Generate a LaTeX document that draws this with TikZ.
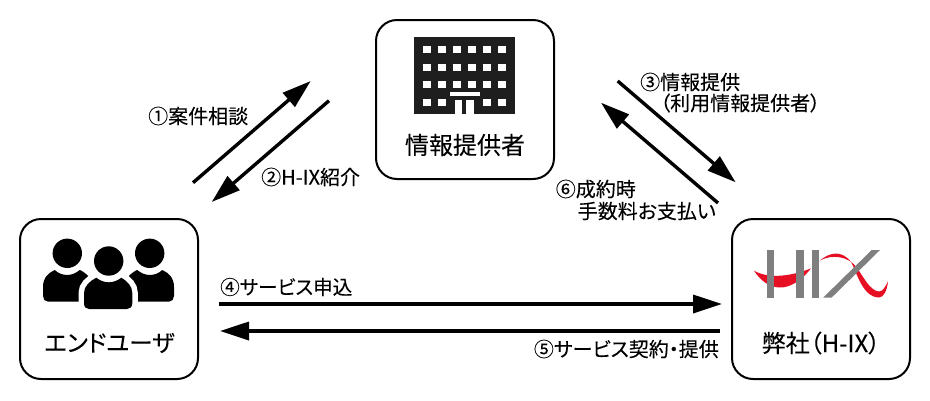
\documentclass[tikz,border=0pt]{standalone}
\usepackage{fontspec}
\setmainfont[RawFeature={+palt},FakeBold=0.05]{Noto Sans CJK JP}
\usetikzlibrary{arrows.meta}
\definecolor{logored}{HTML}{E60F23}
\definecolor{logogray}{HTML}{7F7F7F}
\definecolor{bldg}{HTML}{1E1E1E}
\tikzset{
  x=1pt,y=-1pt,
  actorbox/.style={draw=black,line width=2pt,rounded corners=21pt,fill=white,inner sep=0pt},
  flow/.style={draw=black,line width=3.4pt,-{Triangle[length=29pt,width=18pt]}},
  flowlabel/.style={font=\fontsize{20}{24}\selectfont,inner sep=0pt,text=black,align=left},
  actorlabel/.style={font=\fontsize{24}{28}\selectfont,inner sep=0pt,text=black},
}
\begin{document}
\begin{tikzpicture}
\useasboundingbox (0,0) rectangle (930,400);
\fill[white] (0,0) rectangle (930,400);
% boxes
\node[actorbox,minimum width=178pt,minimum height=159pt] (info) at (465,99.5) {};
\node[actorbox,minimum width=178pt,minimum height=160pt] (user) at (109,299) {};
\node[actorbox,minimum width=178pt,minimum height=160pt] (hix) at (821,299) {};
% building
\fill[bldg] (414,37) rectangle (515,114);
\foreach \c in {0,...,5}{\foreach \r in {0,1,2}{
  \fill[white] ({423+15*\c},{46+17.5*\r}) rectangle ++(8,7);}}
\foreach \c in {0,1,4,5}{\fill[white] ({423+15*\c},98.5) rectangle ++(8,7);}
\fill[white] (449.5,92) rectangle (480,96);
\fill[white] (455,99.5) rectangle (462,114);
\fill[white] (466,99.5) rectangle (474,114);
% people
\foreach \s in {1,-1}{
\begin{scope}[shift={(108.5,0)},xscale=\s]
  \fill[black] (-41.2,253.3) circle (14.7);
  \fill[black] (-65.5,296) -- (-65.5,287) .. controls (-65.5,278) and (-60.5,273) .. (-53.8,270) .. controls (-50.5,273) and (-46.5,275) .. (-41.2,275) .. controls (-36.5,275) and (-32.5,273) .. (-28.8,270) .. controls (-25.5,271) and (-16.5,278) .. (-16.5,282) -- (-16.5,301.7) -- (-60.5,301.7) .. controls (-63.5,301.7) and (-65.5,299) .. (-65.5,296) -- cycle;
\end{scope}}
\fill[black] (108.7,261) circle (14.7);
\filldraw[fill=black,draw=white,line width=11pt] (84,303) -- (84,293) .. controls (84,286) and (90,281) .. (96.3,277.7) .. controls (100,280.5) and (104,282.3) .. (108.7,282.3) .. controls (113,282.3) and (118,280.5) .. (121.3,277.7) .. controls (127,281) and (132.3,286) .. (132.3,293) -- (132.3,303) .. controls (132.3,307) and (130,309) .. (127,309) -- (89,309) .. controls (86,309) and (84,307) .. (84,303) -- cycle;
\fill[black] (84,303) -- (84,293) .. controls (84,286) and (90,281) .. (96.3,277.7) .. controls (100,280.5) and (104,282.3) .. (108.7,282.3) .. controls (113,282.3) and (118,280.5) .. (121.3,277.7) .. controls (127,281) and (132.3,286) .. (132.3,293) -- (132.3,303) .. controls (132.3,307) and (130,309) .. (127,309) -- (89,309) .. controls (86,309) and (84,307) .. (84,303) -- cycle;
% logo
\fill[logored] (754,270.7) .. controls (768,292) and (790,295) .. (811,268.3) .. controls (795,275) and (770,280) .. (754,270.7) -- cycle;
\fill[logored] (820,260.5) .. controls (830,252) and (842,250) .. (851,262) .. controls (857,272) and (862,297) .. (879,297.5) .. controls (884,297.5) and (887,290) .. (888,281.5) .. controls (885,287) and (883,291.5) .. (879,291.5) .. controls (870,291) and (863,276) .. (857,268) .. controls (849,256) and (832,254) .. (820,260.5) -- cycle;
\fill[logogray] (766.7,250) rectangle (774.3,297.5);
\fill[logogray] (796.3,250) rectangle (803.7,297.5);
\fill[logogray] (812.3,250) rectangle (819.3,297.5);
\fill[logogray] (823.3,297.5) -- (831.7,297.5) -- (880,250) -- (871.7,250) -- cycle;
% labels
\node[actorlabel] (infol) at (465,145) {情報提供者};
\node[actorlabel,font=\fontsize{23.5}{27}\selectfont] (userl) at (109.5,343) {エンドユーザ};
\node[actorlabel,font=\fontsize{24}{28}\selectfont] (hixl) at (821,343) {弊社（H-IX）};
% connectors
\coordinate (a1s) at (193,182.7); \coordinate (a1e) at (310.7,81);
\coordinate (a2s) at (329,100.7); \coordinate (a2e) at (211.7,202);
\coordinate (a3s) at (617.7,81); \coordinate (a3e) at (735.7,182.3);
\coordinate (a6s) at (718,203); \coordinate (a6e) at (601,102.7);
\coordinate (a4s) at (219,304); \coordinate (a4e) at (722,304);
\coordinate (a5s) at (720,331); \coordinate (a5e) at (220,331);
\draw[flow] (a1s) -- (a1e);
\draw[flow] (a2s) -- (a2e);
\draw[flow] (a3s) -- (a3e);
\draw[flow] (a6s) -- (a6e);
\draw[flow] (a4s) -- (a4e);
\draw[flow] (a5s) -- (a5e);
% flow labels
\node[flowlabel,anchor=west] (l1) at (148,116) {①案件相談};
\node[flowlabel,anchor=west] (l2) at (261,177) {②H-IX紹介};
\node[flowlabel,anchor=west] (l3a) at (640,82) {③情報提供};
\node[flowlabel,anchor=west] (l3b) at (660,103) {（利用情報提供者）};
\node[flowlabel,anchor=east] (l6a) at (636,189) {⑥成約時};
\node[flowlabel,anchor=east] (l6b) at (716,211) {手数料お支払い};
\node[flowlabel,anchor=west,font=\fontsize{19.6}{24}\selectfont] (l4) at (220,287) {④サービス申込};
\node[flowlabel,anchor=east] (l5) at (719,349) {⑤サービス契約・提供};
\end{tikzpicture}
\end{document}
